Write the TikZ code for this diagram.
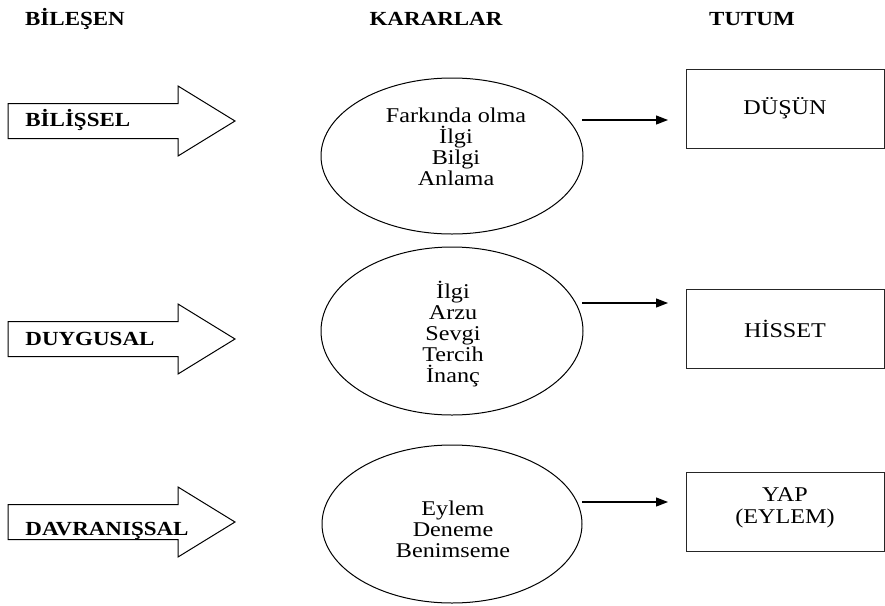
\documentclass[tikz,border=0pt]{standalone}
\usepackage{fontspec}
\setmainfont{Liberation Serif}[FakeStretch=1.15]
\usepackage{tikz}
\usetikzlibrary{arrows.meta,positioning,shapes.geometric}

\tikzset{
  baslik/.style={font=\fontsize{10}{12}\selectfont\bfseries,anchor=base},
  blok/.style={draw,line width=0.5pt},
  etiket/.style={font=\fontsize{10}{12}\selectfont\bfseries,anchor=base west,inner sep=0pt},
  karar/.style={draw,ellipse,line width=0.5pt,inner sep=0pt},
  liste/.style={font=\fontsize{10.5}{10.5}\selectfont,align=center,inner sep=0pt},
  tutum/.style={draw=black!85,line width=0.5pt,minimum width=99pt,minimum height=39.5pt,
                font=\fontsize{10.5}{11}\selectfont,align=center},
  ok/.style={-{Triangle[length=6pt,width=4.5pt]},line width=0.6pt},
}

\begin{document}
\begin{tikzpicture}[x=0.5pt,y=-0.5pt]
  \useasboundingbox (0,0) rectangle (885,606);
  % Column headers
  \node[baslik] (bilesen) at (75,25) {BİLEŞEN};
  \node[baslik] (kararlar) at (436,25) {KARARLAR};
  \node[baslik] (tutumlar) at (752,25) {TUTUM};
  % Block arrows
  \foreach \y in {121,339,522}
    \draw[blok] (8,\y-17.5) -- (178,\y-17.5) -- (178,\y-35) -- (235,\y)
      -- (178,\y+35) -- (178,\y+17.5) -- (8,\y+17.5) -- cycle;
  \node[etiket] (bilissel) at (25,126) {BİLİŞSEL};
  \node[etiket] (duygusal) at (25,345) {DUYGUSAL};
  \node[etiket] (davranissal) at (25,535) {DAVRANIŞSAL};
  % Decisions
  \node[karar,minimum width=131pt,minimum height=78pt] (e1) at (452,156) {};
  \node[karar,minimum width=131pt,minimum height=84pt] (e2) at (452,331) {};
  \node[karar,minimum width=130pt,minimum height=79pt] (e3) at (452,524) {};
  \node[liste] (k1) at (456,147) {Farkında olma\\İlgi\\Bilgi\\Anlama};
  \node[liste] (k2) at (453,334) {İlgi\\Arzu\\Sevgi\\Tercih\\İnanç};
  \node[liste] (k3) at (453,529) {Eylem\\Deneme\\Benimseme};
  % Attitudes
  \node[tutum] (dusun) at (785,108.5) {DÜŞÜN};
  \node[tutum] (hisset) at (785,328.5) {HİSSET};
  \node[tutum] (yap) at (785,512) {YAP\\(EYLEM)\\[-5pt]\mbox{}};
  % Connectors
  \coordinate (o1a) at (582,120); \coordinate (o1b) at (668,120);
  \coordinate (o2a) at (582,303); \coordinate (o2b) at (668,303);
  \coordinate (o3a) at (582,502); \coordinate (o3b) at (668,502);
  \draw[ok] (o1a) -- (o1b);
  \draw[ok] (o2a) -- (o2b);
  \draw[ok] (o3a) -- (o3b);
\end{tikzpicture}
\end{document}
